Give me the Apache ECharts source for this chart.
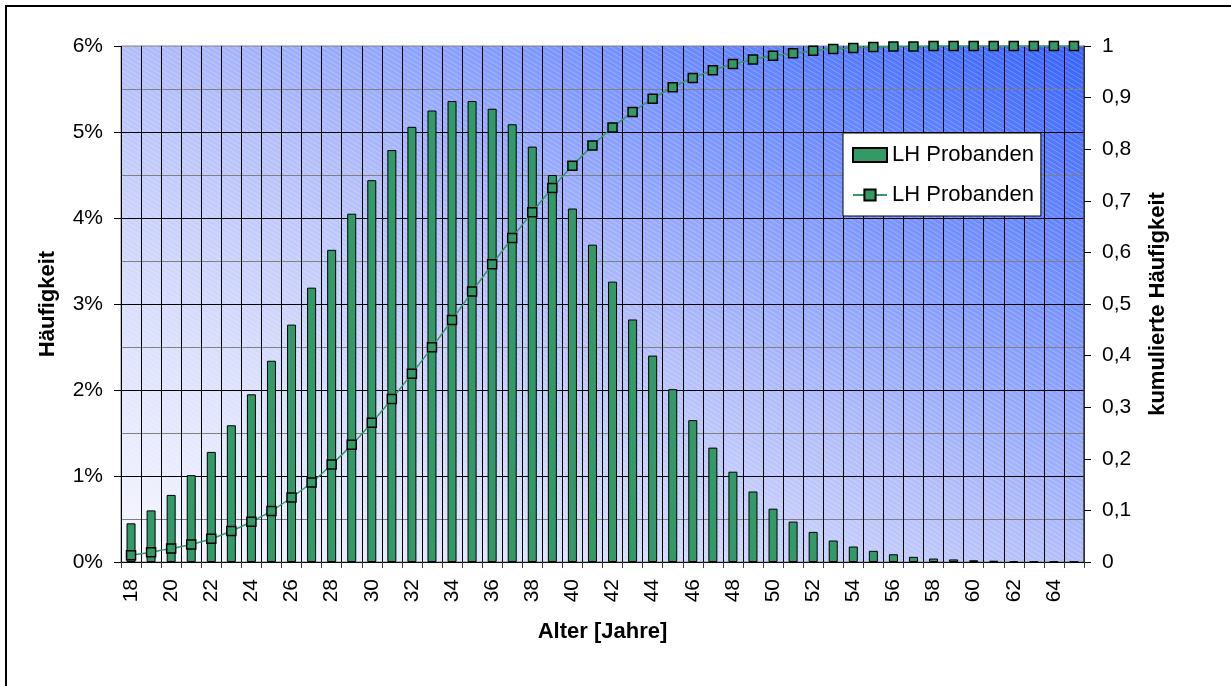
<!DOCTYPE html>
<html>
<head>
<meta charset="utf-8">
<script src="https://cdn.jsdelivr.net/npm/echarts@6/dist/echarts.min.js"></script>
<style>
  html, body { margin: 0; padding: 0; background: #fff; }
  #chart { width: 1231px; height: 686px; }
</style>
</head>
<body>
<div id="chart"></div>
<script>
// Altersverteilung der LH-Probanden
const ages = ['18','19','20','21','22','23','24','25','26','27','28','29','30','31','32','33',
  '34','35','36','37','38','39','40','41','42','43','44','45','46','47','48','49',
  '50','51','52','53','54','55','56','57','58','59','60','61','62','63','64','65'];

// Häufigkeit in Prozent je Altersjahr
const frequency = [0.45,0.60,0.78,1.01,1.28,1.59,1.95,2.34,2.76,3.19,3.63,4.05,4.44,4.79,5.06,5.25,
  5.36,5.36,5.27,5.09,4.83,4.50,4.11,3.69,3.26,2.82,2.40,2.01,1.65,1.33,1.05,0.82,
  0.62,0.47,0.35,0.25,0.18,0.13,0.09,0.06,0.04,0.03,0.02,0.015,0.01,0.006,0.004,0.003];

// kumulierte Häufigkeit (Anteil 0..1)
const cumulative = [0.013,0.019,0.026,0.034,0.045,0.060,0.078,0.099,0.125,0.154,0.189,0.227,0.270,0.316,0.365,0.416,
  0.469,0.524,0.577,0.628,0.678,0.725,0.768,0.807,0.842,0.872,0.898,0.920,0.938,0.953,0.965,0.974,
  0.981,0.986,0.991,0.994,0.996,0.998,0.999,0.999,1.0,1.0,1.0,1.0,1.0,1.0,1.0,1.0];

const seriesLabel = 'LH Probanden';

// plot rectangle
const W = 1231, H = 686;
const PL = 121, PR = 1084, PT = 46, PB = 562;

// background: diagonal blue gradient (in unit-square space, so the colour
// bands run parallel to the top-left/bottom-right diagonal) with faint hatching
function makeBackground() {
  const c = document.createElement('canvas');
  c.width = W; c.height = H;
  const ctx = c.getContext('2d');
  ctx.save();
  ctx.setTransform(PR - PL, 0, 0, PB - PT, PL, PT);
  const g = ctx.createLinearGradient(0, 1, 1, 0);
  g.addColorStop(0, '#f8f8ff');
  g.addColorStop(0.25, '#dadffc');
  g.addColorStop(0.5, '#b2bdf9');
  g.addColorStop(0.75, '#7491fd');
  g.addColorStop(1, '#3563ff');
  ctx.fillStyle = g;
  ctx.fillRect(0, 0, 1, 1);
  ctx.restore();
  ctx.save();
  ctx.beginPath();
  ctx.rect(PL, PT, PR - PL, PB - PT);
  ctx.clip();
  ctx.strokeStyle = 'rgba(255,255,255,0.25)';
  ctx.lineWidth = 1;
  const slope = 0.6, step = 8;
  for (let x0 = PL - 1000; x0 < PR + 50; x0 += step) {
    ctx.beginPath();
    ctx.moveTo(x0, PT);
    ctx.lineTo(x0 + (PB - PT) / slope, PB);
    ctx.stroke();
  }
  ctx.restore();
  return c;
}

const chart = echarts.init(document.getElementById('chart'), null, { renderer: 'canvas' });
const font = 'Liberation Sans, Arial, sans-serif';

chart.setOption({
  animation: false,
  textStyle: { fontFamily: font, color: '#000' },
  graphic: [{
    type: 'rect',
    shape: { x: 6, y: 6, width: 1400, height: 1000 },
    style: { fill: 'none', stroke: '#000', lineWidth: 2 },
    silent: true
  }],
  grid: {
    left: PL, right: W - PR, top: PT, bottom: H - PB,
    containLabel: false,
    outerBoundsMode: 'none',
    show: true,
    backgroundColor: { image: makeBackground(), repeat: 'no-repeat' },
    borderColor: '#808080',
    borderWidth: 1
  },
  legend: {
    orient: 'vertical',
    left: 843, top: 133,
    padding: [11, 7, 10, 9],
    backgroundColor: '#fff',
    borderColor: '#000',
    borderWidth: 1,
    borderRadius: 0,
    itemWidth: 34, itemHeight: 14,
    itemGap: 18,
    itemTextGap: 6,
    textStyle: { fontSize: 22, fontFamily: font, color: '#000' },
    formatter: () => seriesLabel,
    data: [{ name: 'bars', icon: 'rect' }, 'cum']
  },
  xAxis: {
    type: 'category',
    data: ages,
    boundaryGap: true,
    name: 'Alter [Jahre]',
    nameLocation: 'middle',
    nameGap: 59,
    nameTextStyle: { fontSize: 22, fontWeight: 'bold', fontFamily: font, color: '#000' },
    axisLine: { show: true, lineStyle: { color: '#000', width: 1 } },
    axisTick: { show: true, interval: 0, length: 6, lineStyle: { color: '#404040' } },
    axisLabel: { interval: 1, rotate: 90, margin: 17, fontSize: 21, fontFamily: font, color: '#000' },
    splitLine: { show: true, interval: 0, lineStyle: { color: '#000', width: 1 } }
  },
  yAxis: [{
    type: 'value',
    min: 0, max: 6, interval: 1,
    name: 'Häufigkeit',
    nameLocation: 'middle',
    nameRotate: 90,
    nameGap: 62,
    nameTextStyle: { fontSize: 22, fontWeight: 'bold', fontFamily: font, color: '#000' },
    axisLine: { show: false },
    axisTick: { show: true, length: 7, lineStyle: { color: '#000' } },
    axisLabel: { formatter: '{value}%', margin: 18, fontSize: 21, fontFamily: font, color: '#000' },
    splitLine: { show: true, showMaxLine: false, lineStyle: { color: '#000', width: 1 } },
    minorTick: { show: false, splitNumber: 2 },
    minorSplitLine: { show: true, lineStyle: { color: '#808080', width: 1 } }
  }, {
    type: 'value',
    position: 'right',
    min: 0, max: 1, interval: 0.1,
    name: 'kumulierte Häufigkeit',
    nameLocation: 'middle',
    nameRotate: 90,
    nameGap: 63,
    nameTextStyle: { fontSize: 22, fontWeight: 'bold', fontFamily: font, color: '#000' },
    axisLine: { show: true, lineStyle: { color: '#404040', width: 1.5 } },
    axisTick: { show: true, length: 7, lineStyle: { color: '#000' } },
    axisLabel: {
      margin: 18, fontSize: 21, fontFamily: font, color: '#000',
      formatter: v => String(Number(v.toFixed(1))).replace('.', ',')
    },
    splitLine: { show: false }
  }],
  series: [{
    name: 'bars',
    type: 'bar',
    data: frequency,
    barWidth: 9,
    itemStyle: { color: '#339966', borderColor: '#000', borderWidth: 1 },
    z: 3
  }, {
    name: 'cum',
    type: 'line',
    yAxisIndex: 1,
    data: cumulative,
    smooth: 0.3,
    symbol: 'rect',
    symbolSize: 9,
    showAllSymbol: true,
    lineStyle: { color: '#339966', width: 1.5 },
    itemStyle: { color: '#339966', borderColor: '#000', borderWidth: 1.5 },
    z: 4
  }]
});
</script>
</body>
</html>
